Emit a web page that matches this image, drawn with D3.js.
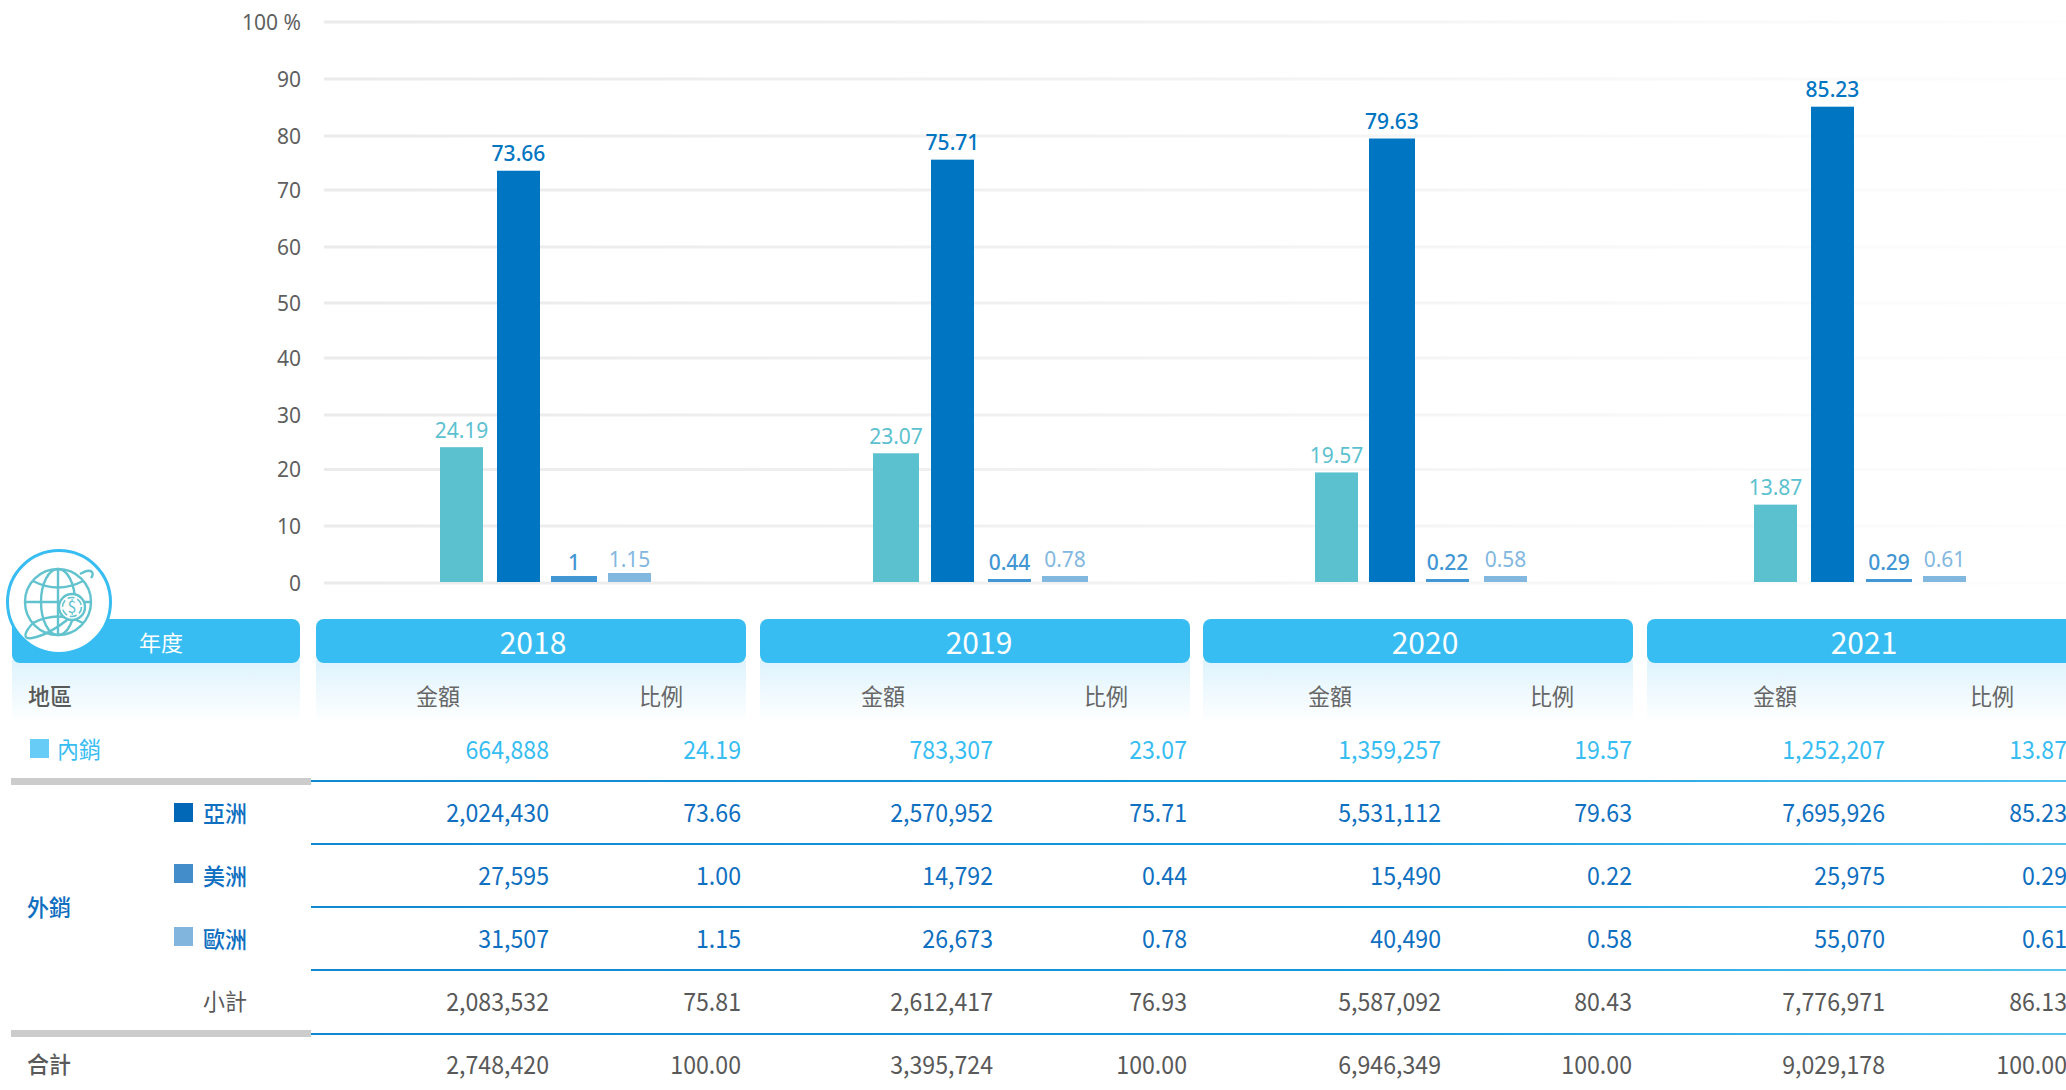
<!DOCTYPE html>
<html><head><meta charset="utf-8">
<script src="https://cdn.jsdelivr.net/npm/d3@7/dist/d3.min.js"></script>
<style>
html,body{margin:0;padding:0;background:#fff;overflow:hidden}
svg{display:block}
text{font-family:"Noto Sans CJK TC","Noto Sans",sans-serif}
.chart text{font-family:"Noto Sans",sans-serif}
</style></head><body><svg id="c" width="2066" height="1090"></svg>
<script>
// ---- data
const years=["2018","2019","2020","2021"];
const seriesNames=["內銷","亞洲","美洲","歐洲"];
const shareDomestic=[24.19,23.07,19.57,13.87];
const shareAsia=[73.66,75.71,79.63,85.23];
const shareAmerica=[1,0.44,0.22,0.29];
const shareEurope=[1.15,0.78,0.58,0.61];
const yTicks=[0,10,20,30,40,50,60,70,80,90,100];
const rowLabels=["內銷","亞洲","美洲","歐洲","小計","合計"];
const amounts=[
 ["664,888","783,307","1,359,257","1,252,207"],
 ["2,024,430","2,570,952","5,531,112","7,695,926"],
 ["27,595","14,792","15,490","25,975"],
 ["31,507","26,673","40,490","55,070"],
 ["2,083,532","2,612,417","5,587,092","7,776,971"],
 ["2,748,420","3,395,724","6,946,349","9,029,178"]];
const ratios=[
 ["24.19","23.07","19.57","13.87"],
 ["73.66","75.71","79.63","85.23"],
 ["1.00","0.44","0.22","0.29"],
 ["1.15","0.78","0.58","0.61"],
 ["75.81","76.93","80.43","86.13"],
 ["100.00","100.00","100.00","100.00"]];
// ---- layout
const barColors=["#5cc1cf","#0075c2","#4296d3","#82b7e0"];
const rowColors=["#38bdf2","#0f6fc0","#0f6fc0","#0f6fc0","#595959","#595959"];
const swatchColors=["#68cdf6","#0068b7","#428dca","#82b5de"];
const tickPixels=[583,526,469.5,415,358,303,247,190,136,79,22];
const groupStart=[440,873,1315,1754];
const barOffsets=[[0,57,111,168],[0,58,115,169],[0,54,111,169],[0,57,112,169]];
const barWidths=[[43,43,46,43],[46,43,43,46],[43,46,43,43],[43,43,46,43]];
const pillLeft=[316,760,1203,1647];
const pillWidth=430;
const yearCenter=[533,979,1425,1864];
const amountRight=[549,993,1441,1885];
const ratioRight=[741,1187,1632,2067];
const amountHead=[438,883,1330,1775];
const ratioHead=[661,1106,1552,1992];
const rowY=[750,813,876,939,1002,1065];
const lineY=[781,844,907,970,1034];

const svg=d3.select("#c");
const defs=svg.append("defs");
const gGrid=defs.append("linearGradient").attr("id","gridFade").attr("gradientUnits","userSpaceOnUse")
  .attr("x1",324).attr("x2",2066).attr("y1",0).attr("y2",0);
[[0,"#ebebeb"],[0.3,"#efefef"],[0.57,"#f4f4f4"],[0.75,"#f8f8f8"],[1,"#fdfdfd"]].forEach(s=>gGrid.append("stop").attr("offset",s[0]).attr("stop-color",s[1]));
const gHead=defs.append("linearGradient").attr("id","headFade").attr("x1",0).attr("x2",0).attr("y1",0).attr("y2",1);
[[0,"#def3fd"],[1,"#ffffff"]].forEach(s=>gHead.append("stop").attr("offset",s[0]).attr("stop-color",s[1]));
const gLine=defs.append("linearGradient").attr("id","lineFade").attr("gradientUnits","userSpaceOnUse")
  .attr("x1",311).attr("x2",2066).attr("y1",0).attr("y2",0);
[[0,"#1287d2"],[0.6,"#129ade"],[1,"#56c4f0"]].forEach(s=>gLine.append("stop").attr("offset",s[0]).attr("stop-color",s[1]));

// ---- chart
const chart=svg.append("g").attr("class","chart");
const y=d3.scaleLinear().domain(yTicks).range(tickPixels);
const x0=d3.scaleOrdinal().domain(years).range(groupStart);

chart.append("g").selectAll("rect").data(yTicks).join("rect")
  .attr("x",324).attr("width",1742).attr("y",d=>y(d)-1.5).attr("height",3).attr("fill","url(#gridFade)");

const axis=d3.axisLeft(y).tickValues(yTicks).tickSize(0).tickPadding(0).tickFormat(d=>d===100?"100 %":String(d));
const ga=chart.append("g").attr("transform","translate(301,0.5)").call(axis);
ga.select(".domain").remove();
ga.selectAll("text").attr("font-size",21).attr("fill","#5f5f5f").style("font-family",'"Noto Sans",sans-serif');

const seriesVals=[shareDomestic,shareAsia,shareAmerica,shareEurope];
const flat=[];
seriesVals.forEach((vals,s)=>vals.forEach((v,i)=>flat.push({s,i,v,
   x:x0(years[i])+barOffsets[i][s], w:barWidths[i][s]})));
const barTop=d=>{ // very small bars are snapped to 3px blocks in the reference
  const h=y(0)-y(d.v);
  return d.v<2 ? 582-Math.ceil(h/3)*3 : y(d.v)+0.5;
};
chart.append("g").selectAll("rect").data(flat).join("rect")
  .attr("x",d=>d.x).attr("width",d=>d.w)
  .attr("y",barTop).attr("height",d=>582-barTop(d))
  .attr("fill",d=>barColors[d.s]);
chart.append("g").selectAll("text").data(flat).join("text")
  .attr("x",d=>d.x+d.w/2)
  .attr("y",d=>barTop(d)-(d.v>=1&&d.v<2?6:9.5))
  .attr("text-anchor","middle").attr("font-size",21)
  .attr("fill",d=>barColors[d.s]).attr("font-weight",d=>d.s===1||d.s===2?500:400)
  .text(d=>String(d.v));

// ---- table header
const tbl=svg.append("g");
function bottomRound(x,y0,w,h,r){return `M${x},${y0}H${x+w}V${y0+h-r}Q${x+w},${y0+h} ${x+w-r},${y0+h}H${x+r}Q${x},${y0+h} ${x},${y0+h-r}Z`;}
const heads=[{x:12,w:288}].concat(pillLeft.map(x=>({x,w:pillWidth})));
tbl.selectAll("path.hd").data(heads).join("path").attr("class","hd")
  .attr("d",d=>bottomRound(d.x,660,d.w,63,8)).attr("fill","url(#headFade)");
tbl.selectAll("rect.pill").data(heads).join("rect").attr("class","pill")
  .attr("x",d=>d.x).attr("y",619).attr("width",d=>d.w).attr("height",44).attr("rx",8).attr("fill","#38bdf2");
const T=(x,yy,t,o={})=>tbl.append("text")
  .attr("transform",`translate(${x},${yy}) scale(${o.sx||1},${o.sy||1})`).attr("dy","0.36em")
  .attr("text-anchor",o.a||"start").attr("font-size",o.s||22).attr("font-weight",o.w||400)
  .attr("fill",o.c||"#595959").text(t);
T(161,643,"年度",{a:"middle",c:"#fff",s:22});
years.forEach((yr,i)=>{
  T(yearCenter[i],643,yr,{a:"middle",c:"#fff",s:30});
  T(amountHead[i],697,"金額",{a:"middle",c:"#666",s:22,sy:1.05});
  T(ratioHead[i],697,"比例",{a:"middle",c:"#666",s:22,sy:1.05});
});
T(28,697,"地區",{w:500,sy:1.05});

// rule lines
tbl.selectAll("rect.rl").data(lineY).join("rect").attr("class","rl")
  .attr("x",311).attr("width",1755).attr("y",d=>d-1).attr("height",2).attr("fill","url(#lineFade)");
[781,1033].forEach(yy=>tbl.append("rect").attr("x",11).attr("y",yy-3).attr("width",300).attr("height",7).attr("fill","#cccccc"));

// row labels
const swatchX=[30,174,174,174];
const swatchY=[739,803,864,927];
swatchColors.forEach((c,i)=>tbl.append("rect").attr("x",swatchX[i]).attr("y",swatchY[i]).attr("width",19).attr("height",19).attr("fill",c));
T(57,750,rowLabels[0],{c:"#38bdf2",sy:1.05});
T(203,814,rowLabels[1],{c:"#0f6fc0",w:500,sy:1.05});
T(203,877,rowLabels[2],{c:"#0f6fc0",w:500,sy:1.05});
T(203,940,rowLabels[3],{c:"#0f6fc0",w:500,sy:1.05});
T(203,1002,rowLabels[4],{sy:1.05});
T(27,908,"外銷",{c:"#0f6fc0",w:500,sy:1.05});
T(27,1065,rowLabels[5],{w:500,sy:1.05});

// values
const valOpts=r=>({a:"end",c:rowColors[r],s:24,sx:0.965,sy:1.04});
amounts.forEach((row,r)=>row.forEach((v,i)=>T(amountRight[i],rowY[r],v,valOpts(r))));
ratios.forEach((row,r)=>row.forEach((v,i)=>T(ratioRight[i],rowY[r],v,valOpts(r))));

// ---- globe badge
const b=svg.append("g");
b.append("circle").attr("cx",59).attr("cy",602).attr("r",51.5).attr("fill","#fff").attr("stroke","#38bdf2").attr("stroke-width",3);
const g=b.append("g").attr("fill","none").attr("stroke","#62c3cf").attr("stroke-width",2.4);
const cx=58,cy=602,R=33;
g.append("circle").attr("cx",cx).attr("cy",cy).attr("r",R);
g.append("ellipse").attr("cx",cx).attr("cy",cy).attr("rx",17).attr("ry",R);
g.append("line").attr("x1",cx).attr("x2",cx).attr("y1",cy-R).attr("y2",cy+R);
g.append("line").attr("x1",cx-R).attr("x2",cx+R).attr("y1",cy).attr("y2",cy);
g.append("path").attr("d",`M${cx-25},${cy-21}Q${cx},${cy-8} ${cx+25},${cy-21}`);
g.append("path").attr("d",`M${cx-25},${cy+21}Q${cx},${cy+8} ${cx+25},${cy+21}`);
g.append("path").attr("d",`M${cx+22},${cy-28}C${cx+34},${cy-35} ${cx+37},${cy-29} ${cx+33},${cy-24}`);
g.append("path").attr("d",`M${cx-24},${cy+20}C${cx-34},${cy+30} ${cx-36},${cy+38} ${cx-26},${cy+36}C${cx-14},${cy+34} ${cx+2},${cy+24} ${cx+14},${cy+14}`);
g.append("circle").attr("cx",72).attr("cy",607).attr("r",13).attr("fill","#fff");
g.append("circle").attr("cx",72).attr("cy",607).attr("r",9.5).attr("stroke-width",1.6).attr("stroke-dasharray","7 3");
b.append("text").attr("x",72).attr("y",607).attr("dy","0.36em").attr("text-anchor","middle").attr("font-size",16).attr("fill","#62c3cf").text("$");
</script></body></html>
